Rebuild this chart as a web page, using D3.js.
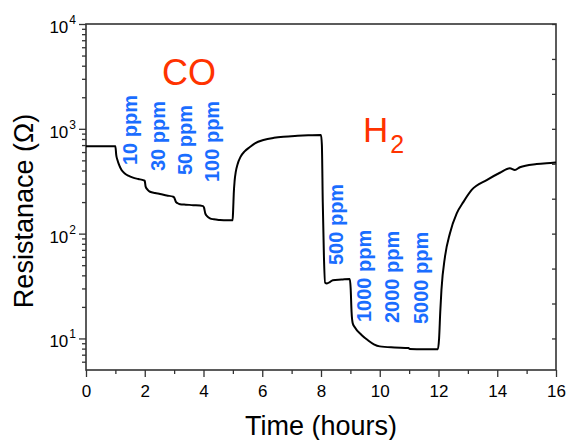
<!DOCTYPE html>
<html>
<head>
<meta charset="utf-8">
<script src="https://cdn.jsdelivr.net/npm/d3@7"></script>
<style>
  body { margin: 0; background: #fff; }
  svg { display: block; font-family: Arial, "Liberation Sans", sans-serif; }
</style>
</head>
<body>
<svg id="chart"></svg>
<script>
// ---- data ----
const timeHours = [
  0, 0.5, 1.0, 1.03, 1.07, 1.13, 1.21, 1.32, 1.44, 1.6, 1.78, 1.97,
  2.0, 2.03, 2.1, 2.18, 2.35, 2.52, 2.75, 2.97,
  3.0, 3.06, 3.12, 3.2, 3.4, 3.65, 3.99,
  4.02, 4.06, 4.12, 4.22, 4.35, 4.56, 4.8, 4.99,
  5.01, 5.03, 5.06, 5.1, 5.16, 5.26, 5.4, 5.58, 5.75, 6.04, 6.4, 6.72, 7.2, 7.6, 8.0,
  8.03, 8.06, 8.1, 8.14, 8.2, 8.3, 8.4, 8.7, 8.98,
  9.01, 9.04, 9.08, 9.15, 9.38, 9.6, 9.8, 10.0, 10.5, 10.98,
  11.02, 11.5, 11.98,
  12.02, 12.06, 12.1, 12.22, 12.39, 12.62, 12.85, 13.13, 13.64, 14.09, 14.43, 14.6, 14.77, 15.34, 15.9, 16
];
const resistance = [
  680, 682, 680, 560, 504, 450, 404, 375, 357, 342, 332, 322,
  318, 281, 262, 251, 244, 239, 231, 225,
  222, 201, 195, 191, 189, 187, 183,
  176, 156, 147, 140, 137, 135, 134, 134,
  170, 240, 320, 390, 460, 540, 610, 670, 725, 781, 820, 841, 858, 868, 875,
  700, 200, 60, 34, 33.5, 34.5, 36, 36.5, 37,
  30, 18, 14, 12.8, 10.8, 9.6, 8.8, 8.4, 8.2, 8.1,
  7.95, 7.9, 7.9,
  10, 18, 29, 60, 101, 156, 201, 261, 324, 381, 420, 405, 430, 461, 475, 478
];

const xTicks = [0, 2, 4, 6, 8, 10, 12, 14, 16];
const yDecades = [1, 2, 3, 4];

const coLabels = ["10 ppm", "30 ppm", "50 ppm", "100 ppm"];
const coLabelX = [137, 165, 191.5, 219];
const coLabelY = [165, 171, 175, 182];
const h2Labels = ["500 ppm", "1000 ppm", "2000 ppm", "5000 ppm"];
const h2LabelX = [342.5, 370.5, 399, 428];
const h2LabelY = [265, 322, 323, 324];

// ---- layout ----
const width = 567, height = 440;
const mLeft = 86, mRight = 556, mTop = 24, mBottom = 370;
const axisColor = "#333";

const svg = d3.select("#chart").attr("width", width).attr("height", height);

const xScale = d3.scaleLinear().domain([0, 16]).range([mLeft, mRight]);
const yScale = d3.scaleLog().domain([5, 10000]).range([mBottom, mTop]);

// minor log ticks (2..9 per decade) inside domain
const yMinor = [];
for (let e = 0; e <= 3; e++) {
  for (let m = 2; m <= 9; m++) {
    const v = m * Math.pow(10, e);
    if (v > 5 && v < 10000) yMinor.push(v);
  }
}
// right axis ticks every third of a decade
const yRight = d3.range(3, 13).map((k) => Math.pow(10, k / 3));

// x axis
svg.append("g")
  .attr("transform", `translate(0,${mBottom})`)
  .call(d3.axisBottom(xScale).tickValues(d3.range(1, 16, 2)).tickSize(4).tickFormat(""))
  .call((g) => g.select(".domain").remove());

svg.append("g")
  .attr("transform", `translate(0,${mBottom})`)
  .call(d3.axisBottom(xScale).tickValues(xTicks).tickSize(7).tickPadding(8).tickFormat(d3.format("d")))
  .call((g) => g.select(".domain").remove())
  .call((g) => g.selectAll("text").attr("font-size", 17).attr("fill", "#000").attr("font-family", null));

// y axis (left)
svg.append("g")
  .attr("transform", `translate(${mLeft},0)`)
  .call(d3.axisLeft(yScale).tickValues(yMinor).tickSize(4).tickFormat(""))
  .call((g) => g.select(".domain").remove());

const yAxisG = svg.append("g")
  .attr("transform", `translate(${mLeft},0)`)
  .call(d3.axisLeft(yScale).tickValues(yDecades.map((d) => Math.pow(10, d))).tickSize(7).tickPadding(3).tickFormat(""))
  .call((g) => g.select(".domain").remove());

yAxisG.selectAll(".tick")
  .append("text")
  .attr("x", -10)
  .attr("dy", "0.5em")
  .attr("text-anchor", "end")
  .attr("fill", "#000")
  .attr("font-size", 17)
  .attr("font-family", "Arial, 'Liberation Sans', sans-serif")
  .each(function (d) {
    const t = d3.select(this);
    t.append("tspan").text("10");
    t.append("tspan").attr("font-size", 12).attr("dy", "-0.75em").attr("dx", 1).text(Math.round(Math.log10(d)));
  });

// right axis, inward ticks
svg.append("g")
  .attr("transform", `translate(${mRight},0)`)
  .call(d3.axisLeft(yScale).tickValues(yRight).tickSize(4).tickFormat(""))
  .call((g) => g.select(".domain").remove());

svg.selectAll(".tick line").attr("stroke", axisColor).attr("stroke-width", 1.3);

// frame
svg.append("rect")
  .attr("x", mLeft).attr("y", mTop)
  .attr("width", mRight - mLeft).attr("height", mBottom - mTop)
  .attr("fill", "none").attr("stroke", axisColor).attr("stroke-width", 1.6);

// curve
const line = d3.line()
  .x((d) => xScale(d[0]))
  .y((d) => yScale(d[1]))
  .curve(d3.curveMonotoneX);

svg.append("path")
  .datum(timeHours.map((t, i) => [t, resistance[i]]))
  .attr("d", line)
  .attr("fill", "none")
  .attr("stroke", "#000")
  .attr("stroke-width", 2)
  .attr("stroke-linejoin", "round");

// axis titles
svg.append("text")
  .attr("x", (mLeft + mRight) / 2).attr("y", 435)
  .attr("text-anchor", "middle")
  .attr("font-size", 27)
  .text("Time (hours)");

svg.append("text")
  .attr("transform", `translate(33,211) rotate(-90)`)
  .attr("text-anchor", "middle")
  .attr("font-size", 27)
  .text("Resistanace (Ω)");

// gas labels
const red = "#ff3300", blue = "#1a6dff";

svg.append("text")
  .attr("x", 162).attr("y", 85)
  .attr("font-size", 36).attr("fill", red)
  .text("CO");

const h2 = svg.append("text")
  .attr("x", 363).attr("y", 141.5)
  .attr("font-size", 35).attr("fill", red);
h2.append("tspan").text("H");
h2.append("tspan").attr("font-size", 25).attr("dy", 11.5).attr("dx", 2).text("2");

const ppm = (labels, xs, ys) =>
  svg.append("g").selectAll("text")
    .data(labels)
    .join("text")
    .attr("transform", (d, i) => `translate(${xs[i]},${ys[i]}) rotate(-90)`)
    .attr("font-size", 20)
    .attr("font-weight", "bold")
    .attr("fill", blue)
    .text((d) => d);

ppm(coLabels, coLabelX, coLabelY);
ppm(h2Labels, h2LabelX, h2LabelY);
</script>
</body>
</html>
